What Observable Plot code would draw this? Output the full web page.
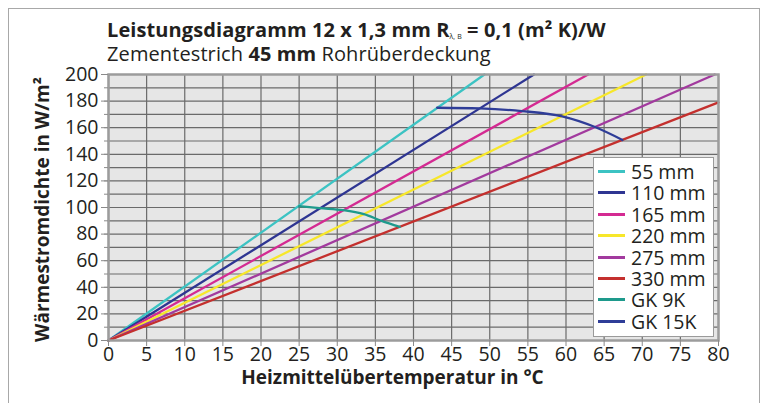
<!DOCTYPE html>
<html>
<head>
<meta charset="utf-8">
<script src="https://cdn.jsdelivr.net/npm/d3@7"></script>
<script src="https://cdn.jsdelivr.net/npm/@observablehq/plot@0.6"></script>
<style>
  html, body { margin: 0; padding: 0; background: #fff; }
  #wrap { position: relative; width: 768px; height: 403px; overflow: hidden; font-family: "Open Sans", sans-serif; color: #231f20; }
  #box { position: absolute; left: 8px; top: 8px; width: 750px; height: 420px; border: 1.5px solid #a8a8a8; }
  #chart { position: absolute; left: 0; top: 0; }
  #title { position: absolute; left: 107px; top: 19px; font-weight: 700; font-size: 20px; line-height: 22px; white-space: nowrap; letter-spacing: 0.1px; }
  #title sub { font-size: 7px; font-weight: 400; vertical-align: -2px; line-height: 0; }
  #subtitle { position: absolute; left: 107px; top: 43px; font-size: 20px; line-height: 22px; white-space: nowrap; letter-spacing: 0.1px; }
  #legend { position: absolute; left: 593px; top: 157px; width: 121px; height: 180px; background: #fff; border: 1.5px solid #9a9a9a; box-sizing: border-box; }
  .row { position: absolute; left: 4px; height: 21px; line-height: 21px; display: flex; align-items: center; font-size: 19.5px; white-space: nowrap; }
  .sw { width: 27px; height: 3px; margin-right: 6px; flex: none; }
</style>
</head>
<body>
<div id="wrap">
  <div id="box"></div>
  <div id="chart"></div>
  <div id="title">Leistungsdiagramm 12 x 1,3 mm R<sub>λ, B</sub> = 0,1 (m² K)/W</div>
  <div id="subtitle">Zementestrich <b>45 mm</b> Rohrüberdeckung</div>
  <div id="legend"></div>
</div>
<script>
// Pipe spacings: straight lines from the origin to their end point
const spacings = ["55 mm", "110 mm", "165 mm", "220 mm", "275 mm", "330 mm"];
const spacingColors = ["#3cc3c3", "#2e3592", "#d42a92", "#f7e72a", "#a23a9e", "#c4302e"];
const endTemp = [49.3, 55.8, 62.9, 70.5, 79.5, 80];
const endFlux = [200, 200, 200, 200, 200, 179];

// Limit curves (Grenzkurven)
const limits = ["GK 9K", "GK 15K"];
const limitColors = ["#1e9a8c", "#2f3d98"];
const gk9Temp = [25, 27.7, 30.8, 33.5, 35.8, 38.2];
const gk9Flux = [101, 99.5, 98, 95, 90, 85.5];
const gk15Temp = [43.1, 48.7, 54.2, 59.5, 63.8, 67.4];
const gk15Flux = [175, 174.5, 172.5, 168.5, 160.5, 150.8];

// Axis ticks
const xTicks = d3.range(0, 81, 5);
const yTicks = d3.range(0, 201, 20);
const yGrid = d3.range(0, 201, 10);

const xTitle = "Heizmittelübertemperatur in °C";
const yTitle = "Wärmestromdichte in W/m²";

const spacingRows = spacings.flatMap((s, i) => [
  {series: s, t: 0, q: 0},
  {series: s, t: endTemp[i], q: endFlux[i]}
]);
const limitRows = [
  ...gk9Temp.map((t, i) => ({series: "GK 9K", t, q: gk9Flux[i]})),
  ...gk15Temp.map((t, i) => ({series: "GK 15K", t, q: gk15Flux[i]}))
];

const allNames = [...spacings, ...limits];
const allColors = [...spacingColors, ...limitColors];

const plot = Plot.plot({
  width: 768,
  height: 403,
  marginLeft: 108,
  marginRight: 50,
  marginTop: 74,
  marginBottom: 63,
  style: {fontFamily: "Open Sans, sans-serif", fontSize: "19px", color: "#231f20", background: "transparent", overflow: "visible"},
  x: {domain: [0, 80]},
  y: {domain: [0, 200]},
  color: {domain: allNames, range: allColors},
  marks: [
    Plot.frame({fill: "#e6e6e6"}),
    Plot.gridX(xTicks, {stroke: "#6a6a6a", strokeOpacity: 1, strokeWidth: 1.2}),
    Plot.gridY(yGrid, {stroke: "#6a6a6a", strokeOpacity: 1, strokeWidth: 1.2}),
    Plot.line(spacingRows, {x: "t", y: "q", z: "series", stroke: "series", strokeWidth: 2.3}),
    Plot.line(limitRows, {x: "t", y: "q", z: "series", stroke: "series", strokeWidth: 2.3, curve: "monotone-x"}),
    Plot.frame({stroke: "#9c9c9c", strokeWidth: 2.5}),
    Plot.axisY(yGrid, {tickSize: 4, stroke: "#8a8a8a", text: null, label: null}),
    Plot.axisY(yTicks, {tickSize: 7, tickPadding: 3, stroke: "#8a8a8a", fontSize: 19.5, label: null}),
    Plot.axisX(xTicks, {tickSize: 6, tickPadding: 1, stroke: "#8a8a8a", fontSize: 19.5, label: null}),
    Plot.text([xTitle], {frameAnchor: "bottom", dx: -21, dy: 43, fontWeight: 700, fontSize: 19, text: d => d}),
    Plot.text([yTitle], {frameAnchor: "left", textAnchor: "middle", dx: -66, dy: 2, rotate: -90, fontWeight: 700, fontSize: 19, text: d => d})
  ]
});
document.getElementById("chart").appendChild(plot);

// Legend
const legend = document.getElementById("legend");
allNames.forEach((name, i) => {
  const row = document.createElement("div");
  row.className = "row";
  row.style.top = (3 + i * 21.4) + "px";
  const sw = document.createElement("div");
  sw.className = "sw";
  sw.style.background = allColors[i];
  const label = document.createElement("span");
  label.textContent = name;
  row.appendChild(sw);
  row.appendChild(label);
  legend.appendChild(row);
});
</script>
</body>
</html>
